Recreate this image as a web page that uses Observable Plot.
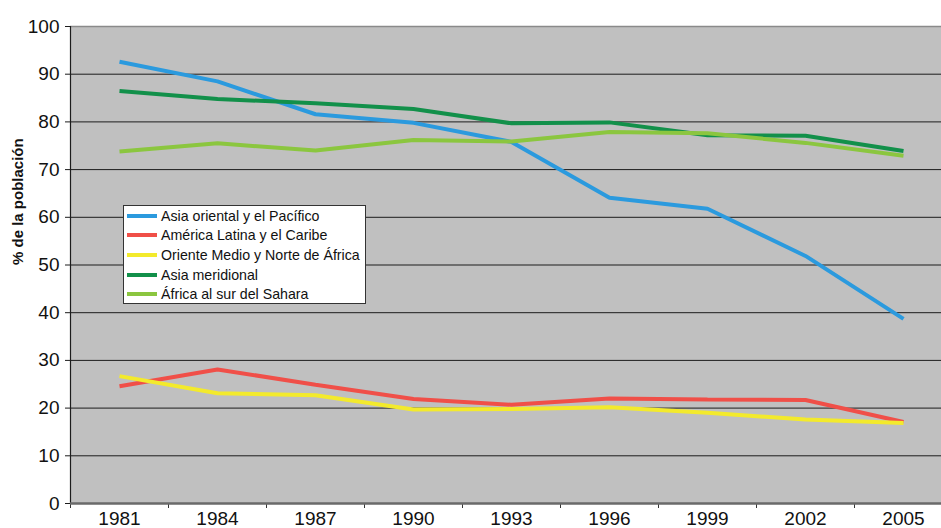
<!DOCTYPE html>
<html>
<head>
<meta charset="utf-8">
<script src="https://cdn.jsdelivr.net/npm/d3@7"></script>
<script src="https://cdn.jsdelivr.net/npm/@observablehq/plot@0.6"></script>
<style>
  body { margin: 0; background: #fff; font-family: "Liberation Sans", Arial, sans-serif; }
  #wrap { position: relative; width: 941px; height: 528px; }
  #legend { position: absolute; left: 123px; top: 205px; width: 241px; height: 97px;
            background: #fff; border: 1px solid #333; box-sizing: content-box; }
  .row { height: 19.6px; display: flex; align-items: center; font-size: 14.2px; color: #111; white-space: nowrap; }
  .sw { width: 30px; height: 4px; margin-left: 3px; margin-right: 4px; }
</style>
</head>
<body>
<div id="wrap"><div id="chart"></div><div id="legend"></div></div>
<script>
const years = [1981, 1984, 1987, 1990, 1993, 1996, 1999, 2002, 2005];
const seriesNames = [
  "Asia oriental y el Pacífico",
  "América Latina y el Caribe",
  "Oriente Medio y Norte de África",
  "Asia meridional",
  "África al sur del Sahara"
];
const seriesColors = ["#2b9ade", "#f04f48", "#f3ea2c", "#12904a", "#8bc63f"];
const eastAsiaPacific = [92.6, 88.5, 81.6, 79.8, 75.8, 64.1, 61.8, 51.9, 38.7];
const latinAmericaCaribbean = [24.6, 28.1, 24.9, 21.9, 20.7, 22.0, 21.8, 21.7, 17.1];
const middleEastNorthAfrica = [26.7, 23.1, 22.7, 19.7, 19.8, 20.2, 19.0, 17.6, 16.9];
const southAsia = [86.5, 84.8, 83.9, 82.7, 79.7, 79.9, 77.2, 77.1, 73.9];
const subSaharanAfrica = [73.8, 75.5, 74.0, 76.2, 75.9, 77.9, 77.6, 75.6, 72.9];
const yTicks = [0, 10, 20, 30, 40, 50, 60, 70, 80, 90, 100];
const yLabel = "% de la población";

const allValues = [eastAsiaPacific, latinAmericaCaribbean, middleEastNorthAfrica, southAsia, subSaharanAfrica];
const data = seriesNames.map((name, i) => years.map((year, j) => ({name, year, value: allValues[i][j]})));
// category boundaries (bands of 3 years centred on each year)
const bounds = [years[0] - 1.5, ...years.map(y => y + 1.5)];

const lineMarks = data.map((d, i) =>
  Plot.line(d, {x: "year", y: "value", stroke: seriesColors[i], strokeWidth: 4, strokeLinejoin: "miter", strokeLinecap: "butt"})
);

const chart = Plot.plot({
  width: 941,
  height: 528,
  marginLeft: 70,
  marginRight: 0,
  marginTop: 26,
  marginBottom: 25,
  style: {fontFamily: "'Liberation Sans', Arial, sans-serif", fontSize: "19px", color: "#111", background: "#fff"},
  x: {type: "linear", domain: [bounds[0], bounds[bounds.length - 1]], range: [70, 952]},
  y: {domain: [0, 100]},
  marks: [
    Plot.frame({fill: "#c0c0c0", stroke: null}),
    Plot.ruleY(yTicks.filter(t => t > 0 && t < 100), {stroke: "#1c1c1c", strokeWidth: 1}),
    Plot.ruleY([100], {stroke: "#8a8a8a", strokeWidth: 1.5}),
    Plot.ruleX([bounds[0]], {stroke: "#1c1c1c", strokeWidth: 1.2}),
    Plot.axisY({ticks: yTicks, tickSize: 5, tickPadding: 6, label: null, fontSize: 19, stroke: "#1c1c1c"}),
    Plot.axisX({ticks: bounds, tickSize: 5, tickFormat: () => "", label: null, stroke: "#333"}),
    Plot.axisX({ticks: years, tickSize: 0, tickPadding: 7.5, tickFormat: d => String(d), label: null, fontSize: 19}),
    ...lineMarks,
    Plot.ruleY([0], {stroke: "#6a6a6a", strokeWidth: 2.5}),
    Plot.text([yLabel], {frameAnchor: "left", rotate: -90, dx: -52, fontWeight: "bold", fontSize: 15, fill: "#111"})
  ]
});
document.getElementById("chart").appendChild(chart);

const legend = document.getElementById("legend");
seriesNames.forEach((name, i) => {
  const row = document.createElement("div");
  row.className = "row";
  const sw = document.createElement("div");
  sw.className = "sw";
  sw.style.background = seriesColors[i];
  const t = document.createElement("span");
  t.textContent = name;
  row.appendChild(sw);
  row.appendChild(t);
  legend.appendChild(row);
});
</script>
</body>
</html>
